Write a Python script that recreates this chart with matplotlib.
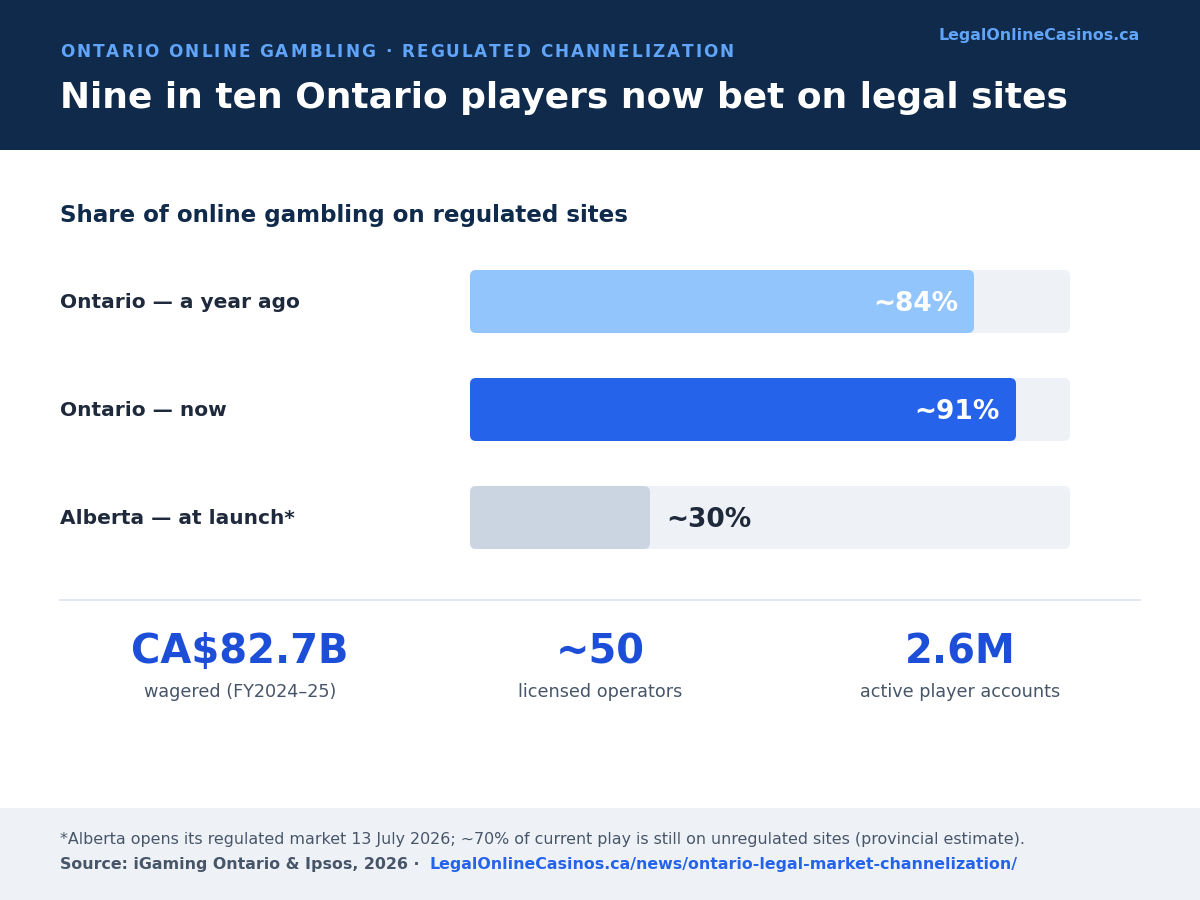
import matplotlib
matplotlib.use("Agg")
import matplotlib.pyplot as plt
from matplotlib.patches import FancyBboxPatch, Rectangle
from matplotlib.lines import Line2D
from matplotlib.transforms import blended_transform_factory, offset_copy
from matplotlib.font_manager import FontProperties, findfont, get_font

# ---------------- data ----------------
categories = ["Ontario — a year ago", "Ontario — now", "Alberta — at launch*"]
shares = [84, 91, 30]
share_labels = ["~84%", "~91%", "~30%"]
stat_values = ["CA$82.7B", "~50", "2.6M"]
stat_captions = ["wagered (FY2024–25)", "licensed operators", "active player accounts"]

kicker = "ONTARIO ONLINE GAMBLING · REGULATED CHANNELIZATION"
title = "Nine in ten Ontario players now bet on legal sites"
brand = "LegalOnlineCasinos.ca"
section = "Share of online gambling on regulated sites"
note = "*Alberta opens its regulated market 13 July 2026; ~70% of current play is still on unregulated sites (provincial estimate)."
source = "Source: iGaming Ontario & Ipsos, 2026 ·"
link = "LegalOnlineCasinos.ca/news/ontario-legal-market-channelization/"

# ---------------- style ----------------
NAVY = "#0f2a4a"
KICK = "#60a5fa"
DARK = "#1e293b"
GREY = "#475569"
TRACK = "#eef2f7"
STAT = "#1d4ed8"
LINK = "#2563eb"
bar_colors = ["#93c5fd", "#2563eb", "#cbd5e1"]
FAM = "DejaVu Sans"

W, H, DPI = 1200, 900, 100
fig = plt.figure(figsize=(W / DPI, H / DPI), dpi=DPI)
fig.patch.set_facecolor("white")
canvas = fig.add_axes([0, 0, 1, 1])
canvas.set_xlim(0, W)
canvas.set_ylim(H, 0)
canvas.axis("off")

# header / footer bands
canvas.add_patch(Rectangle((0, 0), W, 150, color=NAVY, lw=0))
canvas.add_patch(Rectangle((0, 808), W, 92, color=TRACK, lw=0))

# letter-spaced kicker
def spaced(ax, x, y, s, size, spacing_px, **kw):
    fp = FontProperties(family=FAM, weight="bold")
    font = get_font(findfont(fp))
    font.set_size(size, DPI)
    cur = x
    for ch in s:
        ax.text(cur, y, ch, fontsize=size, fontweight="bold", family=FAM,
                va="baseline", ha="left", **kw)
        g = font.load_char(ord(ch))
        cur += g.linearHoriAdvance / 65536 + spacing_px

spaced(canvas, 60, 57, kicker, 12.2, 2.0, color=KICK)
canvas.text(60, 108, title, fontsize=25.95, fontweight="bold", family=FAM,
            color="white", va="baseline", ha="left")
canvas.text(1140, 40, brand, fontsize=11.4, fontweight="bold", family=FAM,
            color=KICK, va="baseline", ha="right")

canvas.text(60, 222, section, fontsize=16.6, fontweight="bold", family=FAM,
            color=NAVY, va="baseline", ha="left")

# ---------------- bars ----------------
top_px, bot_px = 270, 549
row_px = 108
bar_px = 63
ax = fig.add_axes([470 / W, 1 - bot_px / H, 600 / W, (bot_px - top_px) / H])
half = bar_px / row_px / 2
ax.set_xlim(0, 100)
ax.set_ylim(len(categories) - 1 + half, -half)
ax.axis("off")
asp = (1 / row_px) / (100 / 600)  # y-units per px / x-units per px
r = 6 * 100 / 600
h = bar_px / row_px
for i, (v, c) in enumerate(zip(shares, bar_colors)):
    ax.add_patch(FancyBboxPatch((0, i - h / 2), 100, h,
                                boxstyle=f"round,pad=0,rounding_size={r}",
                                mutation_aspect=asp, fc=TRACK, ec="none", clip_on=False))
    ax.add_patch(FancyBboxPatch((0, i - h / 2), v, h,
                                boxstyle=f"round,pad=0,rounding_size={r}",
                                mutation_aspect=asp, fc=c, ec="none", clip_on=False))

lab_tr = offset_copy(blended_transform_factory(canvas.transData, ax.transData),
                     fig=fig, x=0, y=-7.0, units="dots")
for i, cat in enumerate(categories):
    canvas.text(60, i, cat, transform=lab_tr, fontsize=14.5, fontweight="bold",
                family=FAM, color=DARK, va="baseline", ha="left")

in_tr = offset_copy(ax.transData, fig=fig, x=-16, y=-9.3, units="dots")
out_tr = offset_copy(ax.transData, fig=fig, x=16, y=-9.3, units="dots")
for i, (v, lab) in enumerate(zip(shares, share_labels)):
    if v > 50:
        ax.text(v, i, lab, transform=in_tr, ha="right", va="baseline",
                fontsize=19, fontweight="bold", family=FAM, color="white")
    else:
        ax.text(v, i, lab, transform=out_tr, ha="left", va="baseline",
                fontsize=19, fontweight="bold", family=FAM, color=DARK)

# separator
canvas.add_line(Line2D([60, 1140], [600, 600], color="#e2e8f0", lw=1.5))

# ---------------- stats ----------------
centers = [240, 600, 960]
for cx, val, cap in zip(centers, stat_values, stat_captions):
    canvas.text(cx, 663, val, fontsize=28.8, fontweight="bold", family=FAM,
                color=STAT, ha="center", va="baseline")
    canvas.text(cx, 697, cap, fontsize=12.7, family=FAM, color=GREY,
                ha="center", va="baseline")

# ---------------- footer ----------------
canvas.text(60, 844, note, fontsize=11.4, family=FAM, color=GREY,
            ha="left", va="baseline")
t = canvas.text(60, 869, source, fontsize=11.4, fontweight="bold", family=FAM,
                color=GREY, ha="left", va="baseline")
rend = fig.canvas.get_renderer()
bb = t.get_window_extent(renderer=rend)
end_x = canvas.transData.inverted().transform((bb.x1, bb.y0))[0]
canvas.text(end_x + 10, 869, link, fontsize=11.4, fontweight="bold", family=FAM,
            color=LINK, ha="left", va="baseline")

fig.savefig("out.png", dpi=DPI, facecolor=fig.get_facecolor())
